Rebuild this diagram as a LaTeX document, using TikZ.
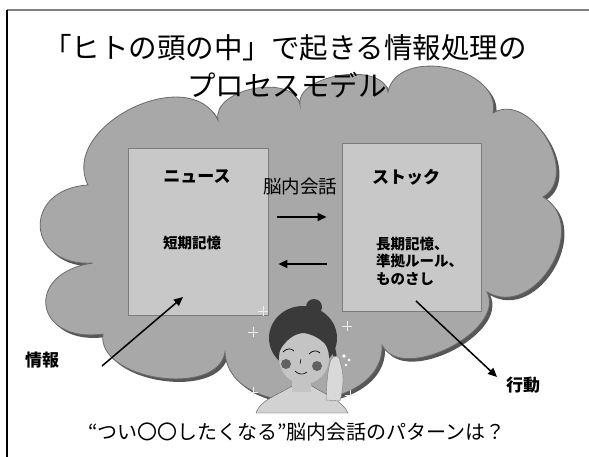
\documentclass[tikz,border=0pt]{standalone}
\usepackage{fontspec}
\setmainfont{Noto Sans CJK JP}
\usetikzlibrary{arrows.meta,positioning,calc}

\definecolor{cloudfill}{HTML}{A8A8A8}
\definecolor{cloudline}{HTML}{6A6A6A}
\definecolor{cloudshade}{HTML}{575757}
\definecolor{boxfill}{HTML}{C8C8C8}
\definecolor{boxline}{HTML}{7C7C7C}
\definecolor{hair}{HTML}{3A3A3A}
\definecolor{skin}{HTML}{C4C4C4}

% bumps of the thought cloud, clockwise
\newcommand{\cloudpath}{(88,185) to[bend left=90,looseness=1.15] (218,120)
    to[bend left=90,looseness=1.0] (300,105)
    to[bend left=90,looseness=0.9] (388,92)
    to[bend left=90,looseness=1.13] (493,113)
    to[bend left=90,looseness=1.15] (543,197)
    to[bend left=90,looseness=1.3] (487,292)
    to[bend left=90,looseness=0.95] (382,345)
    to[bend left=90,looseness=1.14] (225,352)
    to[bend left=90,looseness=0.97] (103,334)
    to[bend left=90,looseness=2.5] (93,263)
    to[bend left=90,looseness=2.2] (88,185) -- cycle}

\begin{document}
\begin{tikzpicture}[x=1pt,y=-1pt,
    memo/.style ={
        draw=boxline,
        fill=boxfill,
        line width=0.8pt,
        inner sep=0pt
    },
    head/.style ={
        font=\bfseries\fontsize{17}{17}\selectfont,
        inner sep=0pt
    },
    body/.style ={
        font=\bfseries\fontsize{14.5}{17.5}\selectfont,
        align=left,
        inner sep=0pt
    },
    flow/.style ={
        -{Triangle[length=9pt,width=8pt]},
        line width=1.5pt
    }
    ]
    \useasboundingbox[fill=white] (0,0) rectangle (589,457);
    \draw[gray, line width=1.5pt] (7,10) -- (589,10);
    \draw[line width=1.2pt] (7,10) -- (7,457);

    \fill[cloudshade, shift={(3,3)}] \cloudpath;
    \filldraw[fill=cloudfill, draw=cloudline, line width=0.8pt] \cloudpath;

    \node[font=\fontsize{28.5}{30}\selectfont] (title1) at (285,48) {「ヒトの頭の中」で起きる情報処理の};
    \node[font=\fontsize{28.5}{30}\selectfont] (title2) at (287,85) {プロセスモデル};

    \node[memo, minimum width=140pt, minimum height=167pt] (news) at (198,231.5) {};
    \node[memo, minimum width=139pt, minimum height=168pt] (stock) at (411.5,227) {};

    \node[head] (newsT) at (197,177) {ニュース};
    \node[body] (short) at (192,243) {短期記憶};
    \node[head] (stockT) at (406,177) {ストック};
    \node[body, anchor=west] (long) at (376,261) {長期記憶、\\準拠ルール、\\ものさし};
    \node[font=\fontsize{18.5}{20}\selectfont, inner sep=0pt] (talk) at (300,186) {脳内会話};

    \draw[flow, shorten <=9pt, shorten >=15pt] ([yshift=14.5pt]news.east) -- ([yshift=14.5pt]news.east -| stock.west);
    \draw[flow, shorten <=15pt, shorten >=10pt] ([yshift=-32.5pt]news.east -| stock.west) -- ([yshift=-32.5pt]news.east);

    \node[head] (info) at (42,360) {情報};
    \node[head] (act) at (523,385) {行動};
    \coordinate (infoTail) at (102,366);
    \coordinate (infoTip) at (183,297);
    \coordinate (actTail) at (416,301);
    \coordinate (actTip) at (497,377);
    \draw[flow] (infoTail) -- (infoTip);
    \draw[flow] (actTail) -- (actTip);

    % the woman under the cloud
    \fill[hair] (303,338) ellipse [x radius=34, y radius=32];
    \fill[hair] (314,307) circle (8);
    \filldraw[fill=gray!35, draw=gray!70!black, line width=0.4pt]
        (256,413) .. controls (260,400) and (278,395) .. (292,386) -- (312,386)
        .. controls (326,395) and (342,400) .. (348,413) -- cycle;
    \fill[skin] (292,375) rectangle (311,392);
    \fill[skin] (304,358) ellipse [x radius=25, y radius=26];
    \fill[hair] (298,318) .. controls (325,320) and (338,340) .. (337,366)
        .. controls (333,350) and (322,336) .. (304,333) .. controls (295,333) and (285,340) .. (279,352)
        .. controls (280,335) and (288,320) .. (298,318) -- cycle;
    \fill[gray!75!black] (286,364) circle (5) (317,366) circle (5);
    \draw[line width=0.7pt] (283,352) .. controls (287,348) and (291,348) .. (294,351);
    \draw[line width=0.7pt] (309,354) .. controls (313,350) and (317,350) .. (320,353);
    \draw[line width=0.5pt] (301,359) -- (300,364);
    \draw[line width=0.6pt] (295,371) .. controls (299,375) and (303,375) .. (307,372);
    % hand on the right cheek
    \filldraw[fill=gray!30, draw=gray, line width=0.4pt]
        (326,400) .. controls (327,385) and (327,370) .. (331,360)
        .. controls (334,354) and (340,355) .. (340,362)
        .. controls (344,372) and (344,386) .. (340,401) -- cycle;
    \foreach \bx/\by/\br in {344/356/1.8, 349/360/1.5, 346/365/1.3}
        \fill[white] (\bx,\by) circle (\br);
    \foreach \sx/\sy in {253/392, 350/395, 253/332, 263/311, 347/326}
        \draw[white!85!gray, line width=0.5pt] (\sx-5,\sy) -- (\sx+5,\sy) (\sx,\sy-5) -- (\sx,\sy+5);

    \node[font=\fontsize{20}{22}\selectfont] (ask) at (297,432) {“つい〇〇したくなる”脳内会話のパターンは？};
\end{tikzpicture}
\end{document}
